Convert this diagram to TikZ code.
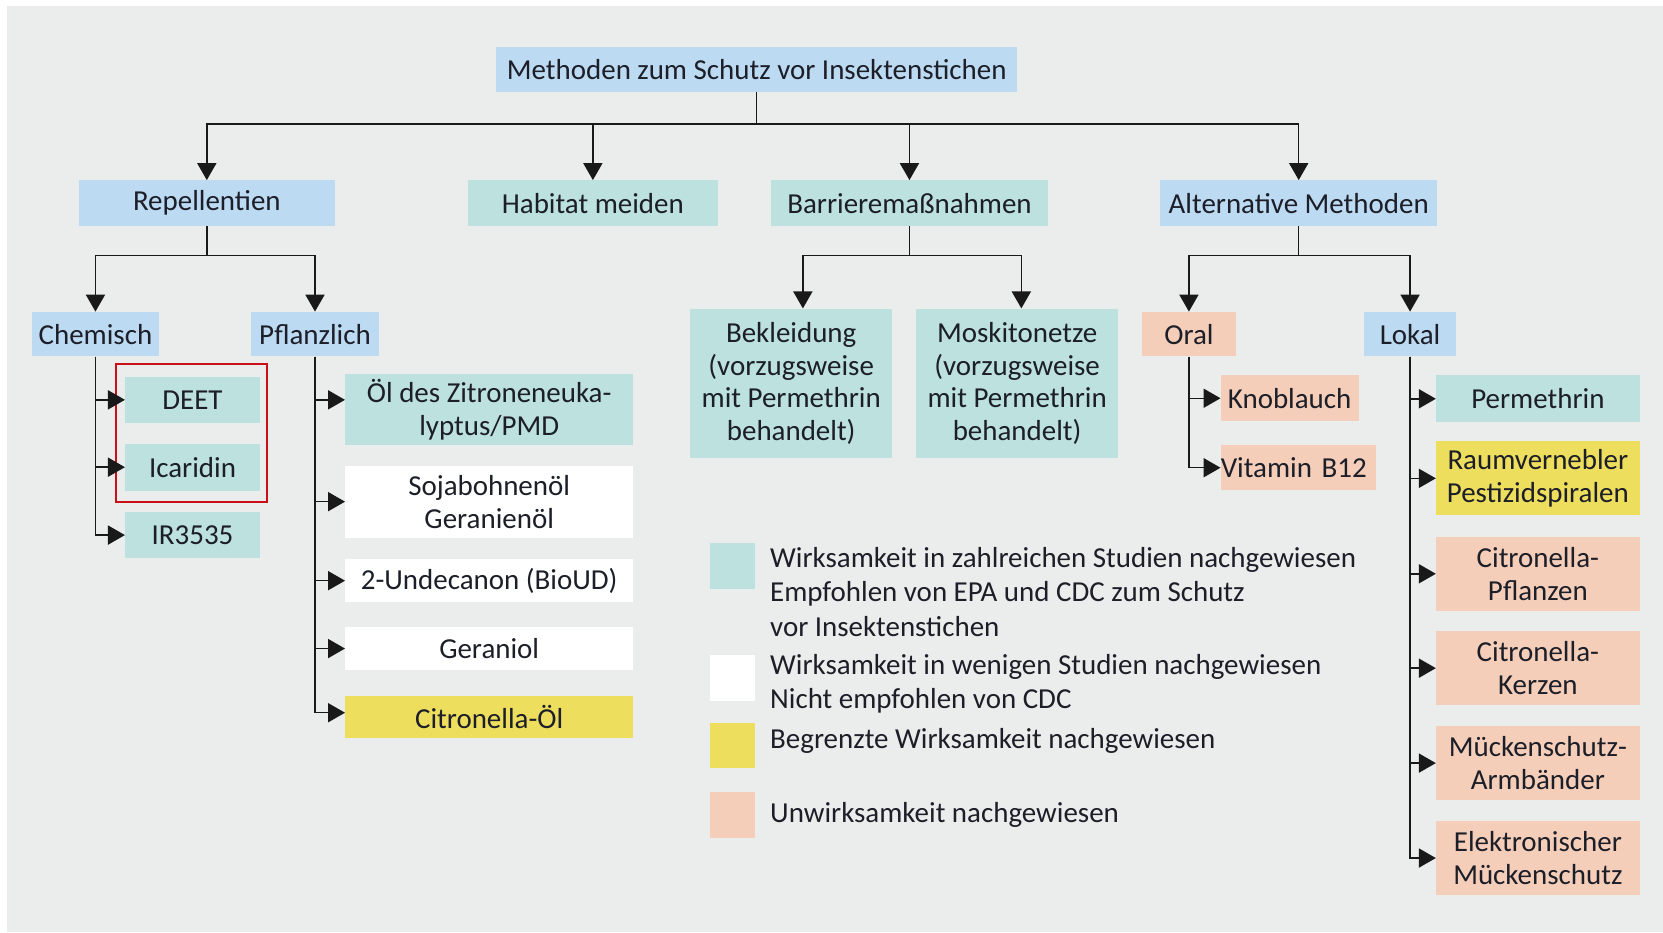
\documentclass[tikz,border=0pt]{standalone}
\usepackage{fontspec}
\setmainfont{Carlito}
\usetikzlibrary{arrows.meta}
\definecolor{bgc}{RGB}{235,237,236}
\definecolor{cblue}{RGB}{189,218,243}
\definecolor{cteal}{RGB}{188,225,223}
\definecolor{cyel}{RGB}{238,222,94}
\definecolor{csal}{RGB}{245,206,185}
\definecolor{cred}{RGB}{200,16,22}
\definecolor{txt}{RGB}{28,30,40}
\definecolor{lc}{RGB}{25,25,25}
\begin{document}
\begin{tikzpicture}[x=1pt,y=-1pt,
  font=\fontsize{27.3}{31}\selectfont,
  bx/.style={fill=#1, inner sep=0pt, align=center, text=txt},
  lg/.style={inner sep=0pt, align=left, text=txt, anchor=west},
  sq/.style={fill=#1, inner sep=0pt, minimum width=43pt, minimum height=43pt},
  ln/.style={draw=lc, line width=1.4pt},
  arr/.style={draw=lc, line width=1.4pt, -{Triangle[length=16pt,width=18pt]}},
  redbox/.style={draw=cred, line width=1.8pt, inner sep=0pt}]
\useasboundingbox (0,0) rectangle (1568,879);
\fill[white] (0,0) rectangle (1568,879);
\fill[bgc] (7,6) rectangle (1568,879);

% top level
\node[bx=cblue, minimum width=491pt, minimum height=43pt] (title) at (713.5,65.5) {Methoden zum Schutz vor Insektenstichen};
\node[bx=cblue, minimum width=241pt, minimum height=43pt] (rep) at (195,191.5) {Repellentien};
\node[bx=cteal, minimum width=236pt, minimum height=43pt] (hab) at (559,191.5) {Habitat meiden};
\node[bx=cteal, minimum width=261pt, minimum height=43pt] (bar) at (857.5,191.5) {Barrieremaßnahmen};
\node[bx=cblue, minimum width=261pt, minimum height=43pt] (alt) at (1224.5,191.5) {Alternative Methoden};

% Repellentien
\node[bx=cblue, minimum width=120pt, minimum height=42pt] (chem) at (90,315) {Chemisch};
\node[bx=cblue, minimum width=120pt, minimum height=42pt] (pfl) at (297,315) {Pflanzlich};
\node[bx=cteal, minimum width=127pt, minimum height=44pt] (deet) at (181.5,377) {DEET};
\node[bx=cteal, minimum width=127pt, minimum height=44pt] (ica) at (181.5,440.5) {Icaridin};
\node[bx=cteal, minimum width=127pt, minimum height=44pt] (ir) at (181.5,504.5) {IR3535};
\node[redbox, minimum width=143pt, minimum height=130pt] (sel) at (180.5,408) {};

\node[bx=cteal, minimum width=271.5pt, minimum height=67pt] (oel) at (461.25,386.5) {Öl des Zitroneneuka-\\lyptus/PMD};
\node[bx=white, minimum width=271.5pt, minimum height=68pt] (soja) at (461.25,473) {Sojabohnenöl\\Geranienöl};
\node[bx=white, minimum width=271.5pt, minimum height=41pt] (undec) at (461.25,547.5) {2-Undecanon (BioUD)};
\node[bx=white, minimum width=271.5pt, minimum height=41pt] (geran) at (461.25,611.5) {Geraniol};
\node[bx=cyel, minimum width=271.5pt, minimum height=40pt] (citoel) at (461.25,676) {Citronella-Öl};

% Barriere
\node[bx=cteal, minimum width=190pt, minimum height=141pt] (bek) at (746,361.5) {Bekleidung\\(vorzugsweise\\mit Permethrin\\behandelt)};
\node[bx=cteal, minimum width=190pt, minimum height=141pt] (mos) at (959,361.5) {Moskitonetze\\(vorzugsweise\\mit Permethrin\\behandelt)};

% Alternative
\node[bx=csal, minimum width=88pt, minimum height=42pt] (oral) at (1121,315) {Oral};
\node[bx=cblue, minimum width=87pt, minimum height=42pt] (lok) at (1329.5,315) {Lokal};
\node[bx=csal, minimum width=130pt, minimum height=43pt] (knob) at (1216,375.5) {Knoblauch};
\node[bx=csal, text width=146pt, align=left, minimum height=42pt] (vitb) at (1224,441) {Vitamin B12};

\node[bx=cteal, minimum width=192pt, minimum height=44pt] (perm) at (1450,376) {Permethrin};
\node[bx=cyel, minimum width=192pt, minimum height=70pt] (raum) at (1450,451) {Raumvernebler\\Pestizidspiralen};
\node[bx=csal, minimum width=192pt, minimum height=70pt] (cpfl) at (1450,541) {Citronella-\\Pflanzen};
\node[bx=csal, minimum width=192pt, minimum height=70pt] (cker) at (1450,630) {Citronella-\\Kerzen};
\node[bx=csal, minimum width=192pt, minimum height=70pt] (muck) at (1450,719.5) {Mückenschutz-\\Armbänder};
\node[bx=csal, minimum width=192pt, minimum height=70pt] (elek) at (1450,809) {Elektronischer\\Mückenschutz};

% legend
\node[sq=cteal] (l1) at (690.5,533.5) {};
\node[sq=white] (l2) at (690.5,639) {};
\node[sq=cyel] (l3) at (690.5,703) {};
\node[sq=csal] (l4) at (690.5,768.5) {};
\node[lg, font=\fontsize{27.3}{32.5}\selectfont] (t1) at (726,558) {Wirksamkeit in zahlreichen Studien nachgewiesen\\Empfohlen von EPA und CDC zum Schutz\\vor Insektenstichen};
\node[lg, font=\fontsize{27.3}{32}\selectfont] (t2) at (726,645) {Wirksamkeit in wenigen Studien nachgewiesen\\Nicht empfohlen von CDC};
\node[lg] (t3) at (726,699) {Begrenzte Wirksamkeit nachgewiesen};
\node[lg] (t4) at (726,768.5) {Unwirksamkeit nachgewiesen};

% connectors
\coordinate (j0) at (713.5,117);
\draw[ln] (title.south) -- (j0);
\draw[arr] (j0) -| (rep.north);
\draw[arr] (j0) -| (hab.north);
\draw[arr] (j0) -| (bar.north);
\draw[arr] (j0) -| (alt.north);

\coordinate (j1) at (195,241);
\draw[ln] (rep.south) -- (j1);
\draw[arr] (j1) -| (chem.north);
\draw[arr] (j1) -| (pfl.north);

\coordinate (j2) at (857.5,241);
\draw[ln] (bar.south) -- (j2);
\draw[arr] (j2) -| ([xshift=11pt]bek.north);
\draw[arr] (j2) -| ([xshift=4pt]mos.north);

\coordinate (j3) at (1224.5,241);
\draw[ln] (alt.south) -- (j3);
\draw[arr] (j3) -| (oral.north);
\draw[arr] (j3) -| (lok.north);

\draw[arr] (chem.south) |- (deet.west);
\draw[arr] (chem.south) |- (ica.west);
\draw[arr] (chem.south) |- (ir.west);

\draw[arr] (pfl.south) |- ([yshift=9.5pt]oel.west);
\draw[arr] (pfl.south) |- (soja.west);
\draw[arr] (pfl.south) |- (undec.west);
\draw[arr] (pfl.south) |- (geran.west);
\draw[arr] (pfl.south) |- ([yshift=4pt]citoel.west);

\draw[arr] (oral.south) |- (knob.west);
\draw[arr] (oral.south) |- (vitb.west);

\draw[arr] (lok.south) |- (perm.west);
\draw[arr] (lok.south) |- (raum.west);
\draw[arr] (lok.south) |- (cpfl.west);
\draw[arr] (lok.south) |- (cker.west);
\draw[arr] (lok.south) |- (muck.west);
\draw[arr] (lok.south) |- (elek.west);
\end{tikzpicture}
\end{document}
